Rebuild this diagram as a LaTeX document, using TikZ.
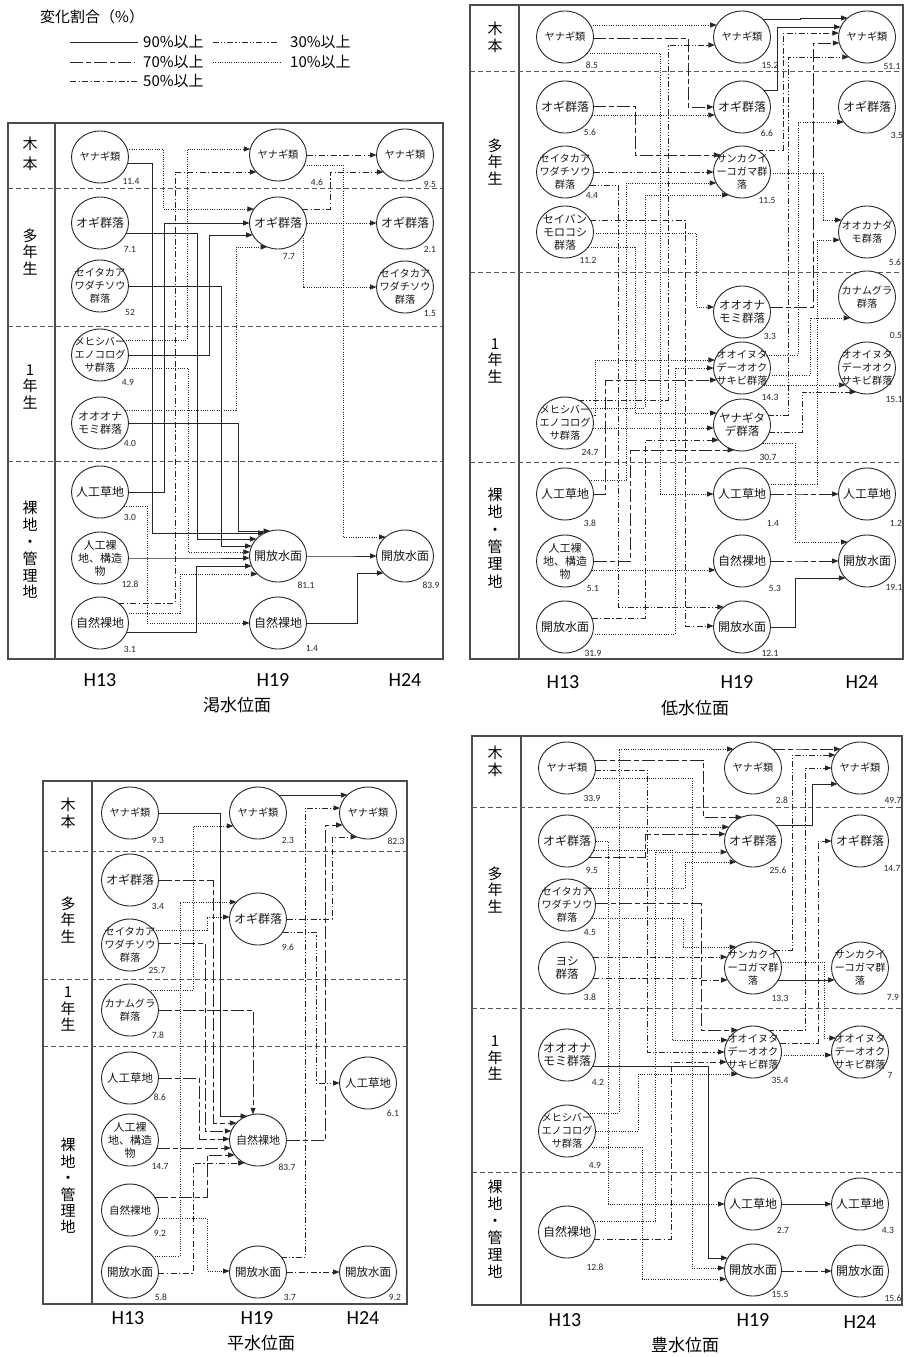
\documentclass[tikz,border=0pt]{standalone}
\usepackage{fontspec}
\setmainfont{Noto Sans CJK JP}
\newfontfamily\numf{Carlito}
\usetikzlibrary{shapes.geometric,arrows.meta,calc}
\tikzset{
 cir/.style={draw=black!85,line width=0.9pt,ellipse,minimum width=57pt,minimum height=52pt,inner sep=0pt,fill=white},
 ctx/.style={align=center,inner sep=0pt,text=black!90},
 val/.style={font=\numf\fontsize{9.5}{10}\selectfont,inner sep=0pt,text=black!85},
 pframe/.style={draw=black!70,line width=1.1pt},
 psep/.style={draw=black!65,line width=0.8pt,dash pattern=on 5pt off 3pt},
 rl/.style={align=center,inner sep=0pt,font=\fontsize{15}{16.8}\selectfont},
 hl/.style={font=\numf\fontsize{20}{20}\selectfont,inner sep=0pt},
 ttl/.style={font=\fontsize{17}{17}\selectfont,inner sep=0pt},
 lg/.style={font=\fontsize{15}{15}\selectfont,inner sep=0pt,anchor=west},
 s90/.style={},
 s70/.style={dash pattern=on 13pt off 3pt on 5pt off 3pt},
 s50/.style={dash pattern=on 6pt off 2.5pt on 1.2pt off 2.5pt},
 s30/.style={dash pattern=on 6pt off 2pt on 1.2pt off 2pt on 1.2pt off 2pt},
 s10/.style={dash pattern=on 1pt off 1.3pt,line width=0.75pt},
 con/.style={line width=0.9pt,draw=black!85,-{Triangle[length=6.5pt,width=5pt]}},
 lgl/.style={line width=0.9pt,draw=black!85},
}
% node: name, x, y, font size, text, value, value x, value y
\newcommand\mknode[8]{%
 \node[cir,label={[ctx,font=\fontsize{#4}{13}\selectfont]center:{#5}}] (#1) at (#2,#3) {};
 \node[val] (#1v) at (#7,#8) {#6};}
% connector: style, source, y at source, x of turn, y at target, target
\newcommand\cxn[6]{%
 \draw[con,#1] let \p1=(#2.center), \p2=(#6.center),
  \n1={28.5*sqrt(max(0,1-((#3+(\y1))/26)^2))},
  \n2={28.5*sqrt(max(0,1-((#5+(\y2))/26)^2))} in
  ({\x1+\n1},{-#3pt}) -| ({#4pt},{-#5pt}) -- ({\x2-\n2},{-#5pt});}
% from bottom of source at x, down, then right into target at y
\newcommand\cxd[5]{%
 \draw[con,#1] let \p1=(#2.center), \p2=(#5.center),
  \n1={26*sqrt(max(0,1-((#3-(\x1))/28.5)^2))},
  \n2={28.5*sqrt(max(0,1-((#4+(\y2))/26)^2))} in
  ({#3pt},{\y1-\n1}) |- ({\x2-\n2},{-#4pt});}
% from right of source at y, right to x, then down into top of target
\newcommand\cxt[5]{%
 \draw[con,#1] let \p1=(#2.center), \p2=(#5.center),
  \n1={28.5*sqrt(max(0,1-((#3+(\y1))/26)^2))},
  \n2={26*sqrt(max(0,1-((#4-(\x2))/28.5)^2))} in
  ({\x1+\n1},{-#3pt}) -| ({#4pt},{\y2+\n2});}
\begin{document}
\begin{tikzpicture}[x=1pt,y=-1pt]
\path[use as bounding box,fill=white] (0,0) rectangle (906,1357);

% ---------------- legend
\node[lg] (lgt) at (40,17) {変化割合（\%）};
\draw[lgl] (70,42) -- (138,42);
\node[lg] (lg90) at (143,42) {90\%以上};
\draw[lgl,s30] (213,42) -- (278,42);
\node[lg] (lg30) at (290,42) {30\%以上};
\draw[lgl,s70] (70,62) -- (135,62);
\node[lg] (lg70) at (143,62) {70\%以上};
\draw[lgl,s10] (213,62) -- (280,62);
\node[lg] (lg10) at (290,62) {10\%以上};
\draw[lgl,s50] (70,81) -- (138,81);
\node[lg] (lg50) at (143,81) {50\%以上};

% ================= PANEL 1 (渇水位面)
\draw[pframe] (8,123) rectangle (443,659);
\draw[pframe] (55,123) -- (55,659);
\draw[psep] (8,188) -- (443,188);
\draw[psep] (8,326) -- (443,326);
\draw[psep] (8,461) -- (443,461);
\node[rl,font=\fontsize{15}{20}\selectfont] (L1a) at (30,154) {木\\本};
\node[rl] (L1b) at (30,252) {多\\年\\生};
\node[rl] (L1c) at (30,387) {1\\年\\生};
\node[rl] (L1d) at (30,550) {裸\\地\\・\\管\\理\\地};
\node[hl] (H1a) at (100,680) {H13};
\node[hl] (H1b) at (273,680) {H19};
\node[hl] (H1c) at (405,680) {H24};
\node[ttl] (T1t) at (237,705) {渇水位面};

\mknode{A1}{100}{157}{10.2}{ヤナギ類}{11.4}{131}{181}
\mknode{A2}{100}{223}{12}{オギ群落}{7.1}{130}{249}
\mknode{A3}{100}{286}{10.2}{セイタカア\\ワダチソウ\\群落}{52}{130}{312}
\mknode{A4}{100}{355}{10.2}{メヒシバー\\エノコログ\\サ群落}{4.9}{128}{382}
\mknode{A5}{100}{423}{11}{オオオナ\\モミ群落}{4.0}{130}{443}
\mknode{A6}{100}{492}{12}{人工草地}{3.0}{130}{517}
\mknode{A7}{100}{558}{11}{人工裸\\地、構造\\物}{12.8}{130}{584}
\mknode{A8}{100}{623}{12}{自然裸地}{3.1}{130}{649}
\mknode{B1}{278}{155}{10.2}{ヤナギ類}{4.6}{317}{182}
\mknode{B2}{278}{223}{12}{オギ群落}{7.7}{289}{256}
\mknode{B3}{278}{556}{12}{開放水面}{81.1}{306}{585}
\mknode{B4}{278}{623}{12}{自然裸地}{1.4}{312}{648}
\mknode{C1}{405}{155}{10.2}{ヤナギ類}{9.5}{430}{184}
\mknode{C2}{405}{223}{12}{オギ群落}{2.1}{430}{249}
\mknode{C3}{405}{287}{10.2}{セイタカア\\ワダチソウ\\群落}{1.5}{430}{313}
\mknode{C4}{405}{556}{12}{開放水面}{83.9}{431}{585}

\cxn{s10}{A1}{149}{163}{209}{B2}
\cxn{s90}{A1}{163}{152}{533}{B3}
\cxn{s90}{A2}{233}{197}{539}{B3}
\cxn{s90}{A3}{286}{221}{546}{B3}
\cxn{s10}{A4}{368}{188}{552}{B3}
\cxn{s90}{A5}{423}{238}{531}{B3}
\cxn{s90}{A7}{558}{200}{558}{B3}
\cxn{s10}{A8}{613}{180}{574}{B3}
\cxn{s90}{A8}{632}{196}{566}{B3}
\cxn{s90}{A6}{492}{164}{223}{B2}
\cxn{s90}{A4}{355}{209}{235}{B2}
\cxn{s10}{A4}{340}{187}{149}{B1}
\cxn{s50}{A8}{603}{175}{172}{B1}
\cxn{s10}{A6}{506}{147}{623}{B4}
\cxn{s10}{A5}{410}{236}{247}{B2}
\cxn{s50}{B1}{155}{350}{155}{C1}
\cxn{s50}{B2}{209}{330}{172}{C1}
\cxn{s10}{B1}{165}{343}{537}{C4}
\cxn{s10}{B2}{223}{360}{223}{C2}
\cxd{s10}{B2}{303}{287}{C3}
\cxn{s90}{B3}{556}{340}{556}{C4}
\cxn{s90}{B4}{623}{357}{573}{C4}

% ================= PANEL 2 (低水位面)
\draw[pframe] (470,5) rectangle (903,659);
\draw[pframe] (519,5) -- (519,659);
\draw[psep] (470,71) -- (903,71);
\draw[psep] (470,272) -- (903,272);
\draw[psep] (470,462) -- (903,462);
\node[rl,font=\fontsize{15}{17}\selectfont] (L2a) at (495,37) {木\\本};
\node[rl] (L2b) at (495,162) {多\\年\\生};
\node[rl] (L2c) at (495,361) {1\\年\\生};
\node[rl,font=\fontsize{15}{17.4}\selectfont] (L2d) at (495,538) {裸\\地\\・\\管\\理\\地};
\node[hl] (H2a) at (563,682) {H13};
\node[hl] (H2b) at (737,682) {H19};
\node[hl] (H2c) at (862,682) {H24};
\node[ttl] (T2t) at (695,708) {低水位面};

\mknode{P2a}{565}{37}{10.2}{ヤナギ類}{8.5}{592}{65}
\mknode{P2b}{565}{107}{12}{オギ群落}{5.6}{590}{132}
\mknode{P2c}{565}{172}{10.2}{セイタカア\\ワダチソウ\\群落}{4.4}{592}{195}
\mknode{P2d}{565}{232}{11}{セイバン\\モロコシ\\群落}{11.2}{588}{260}
\mknode{P2e}{565}{423}{10.2}{メヒシバー\\エノコログ\\サ群落}{24.7}{590}{452}
\mknode{P2f}{565}{494}{12}{人工草地}{3.8}{590}{523}
\mknode{P2g}{565}{561}{11}{人工裸\\地、構造\\物}{5.1}{593}{588}
\mknode{P2h}{565}{627}{12}{開放水面}{31.9}{593}{653}
\mknode{Q1}{742}{37}{10.2}{ヤナギ類}{15.2}{770}{65}
\mknode{Q2}{742}{107}{12}{オギ群落}{6.6}{767}{133}
\mknode{Q3}{742}{172}{10.2}{サンカクイ\\ーコガマ群\\落}{11.5}{767}{200}
\mknode{Q4}{742}{312}{11.5}{オオオナ\\モミ群落}{3.3}{770}{336}
\mknode{Q5}{742}{368}{10.2}{オオイヌタ\\デーオオク\\サキビ群落}{14.3}{770}{397}
\mknode{Q6}{742}{425}{11.5}{ヤナギタ\\デ群落}{30.7}{768}{457}
\mknode{Q7}{742}{494}{12}{人工草地}{1.4}{773}{523}
\mknode{Q8}{742}{561}{12}{自然裸地}{5.3}{775}{588}
\mknode{Q9}{742}{627}{12}{開放水面}{12.1}{770}{653}
\mknode{R1}{867}{37}{10.2}{ヤナギ類}{51.1}{892}{66}
\mknode{R2}{867}{107}{12}{オギ群落}{3.5}{897}{135}
\mknode{R3}{867}{232}{10.2}{オオカナダ\\モ群落}{5.6}{895}{262}
\mknode{R4}{867}{297}{10.2}{カナムグラ\\群落}{0.5}{896}{335}
\mknode{R5}{867}{368}{10.2}{オオイヌタ\\デーオオク\\サキビ群落}{15.1}{894}{399}
\mknode{R6}{867}{494}{12}{人工草地}{1.2}{896}{523}
\mknode{R7}{867}{561}{12}{開放水面}{19.1}{894}{587}

\cxn{s10}{P2a}{25}{650}{25}{Q1}
\cxn{s70}{P2a}{38}{688}{107}{Q2}
\cxn{s10}{P2b}{115}{650}{115}{Q2}
\cxn{s70}{P2b}{106}{635}{155}{Q3}
\cxn{s30}{P2c}{172}{650}{172}{Q3}
\cxn{s10}{P2f}{480}{626}{183}{Q3}
\cxn{s10}{P2e}{408}{645}{195}{Q3}
\cxn{s30}{P2e}{400}{668}{45}{Q1}
\cxn{s10}{P2d}{233}{696}{307}{Q4}
\cxn{s10}{P2e}{415}{595}{360}{Q5}
\cxn{s10}{P2h}{634}{675}{368}{Q5}
\cxn{s70}{P2f}{494}{605}{380}{Q5}
\cxn{s10}{P2d}{247}{635}{413}{Q6}
\cxn{s10}{P2e}{428}{700}{428}{Q6}
\cxn{s50}{P2h}{618}{645}{440}{Q6}
\cxn{s70}{P2g}{561}{630}{450}{Q6}
\cxn{s10}{P2a}{53}{660}{494}{Q7}
\cxn{s10}{P2g}{570}{700}{570}{Q8}
\cxn{s30}{P2c}{185}{618}{607}{Q9}
\cxn{s50}{P2d}{220}{685}{626}{Q9}
\cxn{s90}{Q1}{19}{800}{18}{R1}
\cxn{s90}{Q2}{90}{777}{27}{R1}
\cxn{s50}{Q3}{150}{783}{33}{R1}
\cxn{s70}{Q4}{307}{813}{43}{R1}
\cxn{s30}{Q6}{415}{788}{57}{R1}
\cxn{s10}{Q5}{355}{798}{122}{R2}
\cxn{s10}{Q3}{173}{823}{220}{R3}
\cxn{s10}{Q7}{484}{817}{240}{R3}
\cxn{s10}{Q5}{375}{810}{318}{R4}
\cxn{s10}{Q5}{385}{830}{385}{R5}
\cxn{s30}{Q6}{432}{802}{392}{R5}
\cxn{s10}{Q6}{443}{795}{542}{R7}
\cxn{s70}{Q7}{494}{800}{494}{R6}
\cxn{s70}{Q8}{561}{800}{561}{R7}
\cxn{s90}{Q9}{627}{795}{578}{R7}

% ================= PANEL 3 (平水位面)
\draw[pframe] (43,781) rectangle (407,1304);
\draw[pframe] (92,781) -- (92,1304);
\draw[psep] (43,851) -- (407,851);
\draw[psep] (43,979) -- (407,979);
\draw[psep] (43,1046) -- (407,1046);
\node[rl,font=\fontsize{15}{17}\selectfont] (L3a) at (68,813) {木\\本};
\node[rl] (L3b) at (68,920) {多\\年\\生};
\node[rl] (L3c) at (68,1009) {1\\年\\生};
\node[rl,font=\fontsize{15}{16.4}\selectfont] (L3d) at (68,1186) {裸\\地\\・\\管\\理\\地};
\node[hl] (H3a) at (128,1318) {H13};
\node[hl] (H3b) at (257,1318) {H19};
\node[hl] (H3c) at (363,1318) {H24};
\node[ttl] (T3t) at (261,1343) {平水位面};

\mknode{S1}{130}{813}{10.2}{ヤナギ類}{9.3}{158}{840}
\mknode{S2}{130}{880}{12}{オギ群落}{3.4}{158}{906}
\mknode{S3}{130}{945}{10.2}{セイタカア\\ワダチソウ\\群落}{25.7}{157}{970}
\mknode{S4}{130}{1010}{10.2}{カナムグラ\\群落}{7.8}{158}{1035}
\mknode{S5}{130}{1078}{11.5}{人工草地}{8.6}{160}{1097}
\mknode{S6}{130}{1140}{11}{人工裸\\地、構造\\物}{14.7}{160}{1166}
\mknode{S7}{130}{1210}{10.5}{自然裸地}{9.2}{160}{1233}
\mknode{S8}{130}{1272}{11.5}{開放水面}{5.8}{161}{1297}
\mknode{T1}{258}{813}{10.2}{ヤナギ類}{2.3}{288}{840}
\mknode{T2}{258}{919}{12}{オギ群落}{9.6}{288}{947}
\mknode{T3}{258}{1140}{11}{自然裸地}{83.7}{287}{1167}
\mknode{T4}{258}{1272}{11.5}{開放水面}{3.7}{290}{1297}
\mknode{U1}{368}{813}{10.2}{ヤナギ類}{82.3}{396}{841}
\mknode{U2}{368}{1083}{11.5}{人工草地}{6.1}{393}{1113}
\mknode{U3}{368}{1272}{11.5}{開放水面}{9.2}{395}{1297}

\cxn{s90}{T1}{795}{320}{795}{U1}
\cxn{s30}{T4}{1257}{305}{808}{U1}
\cxn{s70}{T3}{1140}{325}{825}{U1}
\cxn{s50}{T2}{919}{332}{837}{U1}
\cxn{s30}{T2}{932}{316}{1083}{U2}
\cxn{s50}{T4}{1272}{320}{1272}{U3}
\cxn{s10}{S4}{990}{193}{826}{T1}
\cxn{s10}{S8}{1256}{180}{902}{T2}
\cxn{s10}{S3}{930}{207}{917}{T2}
\cxn{s90}{S1}{813}{220}{1116}{T3}
\cxn{s70}{S2}{880}{213}{1123}{T3}
\cxn{s70}{S3}{943}{205}{1131}{T3}
\cxn{s70}{S5}{1078}{199}{1139}{T3}
\cxn{s70}{S6}{1148}{210}{1148}{T3}
\cxn{s70}{S7}{1197}{207}{1155}{T3}
\cxn{s50}{S8}{1273}{193}{1163}{T3}
\cxt{s70}{S4}{1010}{253}{T3}
\cxn{s10}{S7}{1218}{207}{1271}{T4}

% ================= PANEL 4 (豊水位面)
\draw[pframe] (472,736) rectangle (902,1305);
\draw[pframe] (521,736) -- (521,1305);
\draw[psep] (472,807) -- (902,807);
\draw[psep] (472,1008) -- (902,1008);
\draw[psep] (472,1172) -- (902,1172);
\node[rl,font=\fontsize{15}{17}\selectfont] (L4a) at (495,761) {木\\本};
\node[rl] (L4b) at (495,890) {多\\年\\生};
\node[rl] (L4c) at (495,1058) {1\\年\\生};
\node[rl,font=\fontsize{15}{17}\selectfont] (L4d) at (495,1229) {裸\\地\\・\\管\\理\\地};
\node[hl] (H4a) at (565,1320) {H13};
\node[hl] (H4b) at (753,1320) {H19};
\node[hl] (H4c) at (860,1322) {H24};
\node[ttl] (T4t) at (685,1345) {豊水位面};

\mknode{V1}{567}{768}{10.2}{ヤナギ類}{33.9}{592}{798}
\mknode{V2}{567}{841}{12}{オギ群落}{9.5}{592}{870}
\mknode{V3}{567}{905}{10.2}{セイタカア\\ワダチソウ\\群落}{4.5}{590}{932}
\mknode{V4}{567}{968}{11.5}{ヨシ\\群落}{3.8}{590}{997}
\mknode{V5}{567}{1055}{12}{オオオナ\\モミ群落}{4.2}{598}{1082}
\mknode{V6}{567}{1131}{10.2}{メヒシバー\\エノコログ\\サ群落}{4.9}{595}{1165}
\mknode{V7}{567}{1232}{12}{自然裸地}{12.8}{595}{1267}
\mknode{W1}{753}{768}{10.2}{ヤナギ類}{2.8}{782}{800}
\mknode{W2}{753}{841}{12}{オギ群落}{25.6}{778}{870}
\mknode{W3}{753}{968}{10.2}{サンカクイ\\ーコガマ群\\落}{13.3}{780}{998}
\mknode{W4}{753}{1052}{10.2}{オオイヌタ\\デーオオク\\サキビ群落}{35.4}{780}{1080}
\mknode{W5}{753}{1204}{12}{人工草地}{2.7}{783}{1230}
\mknode{W6}{753}{1270}{12}{開放水面}{15.5}{780}{1294}
\mknode{X1}{860}{768}{10.2}{ヤナギ類}{49.7}{893}{800}
\mknode{X2}{860}{841}{12}{オギ群落}{14.7}{892}{868}
\mknode{X3}{860}{968}{10.2}{サンカクイ\\ーコガマ群\\落}{7.9}{893}{997}
\mknode{X4}{860}{1052}{10.2}{オオイヌタ\\デーオオク\\サキビ群落}{7}{890}{1075}
\mknode{X5}{860}{1204}{12}{人工草地}{4.3}{888}{1230}
\mknode{X6}{860}{1271}{12}{開放水面}{15.6}{893}{1298}

\cxn{s70}{W1}{749}{800}{749}{X1}
\cxn{s30}{W3}{950}{792}{755}{X1}
\cxn{s30}{W4}{1030}{805}{768}{X1}
\cxn{s90}{W2}{825}{812}{784}{X1}
\cxn{s50}{W4}{1043}{818}{841}{X2}
\cxn{s10}{W3}{962}{824}{1038}{X4}
\cxn{s90}{W3}{980}{800}{980}{X3}
\cxn{s10}{W4}{1055}{800}{1055}{X4}
\cxn{s90}{W5}{1204}{800}{1204}{X5}
\cxn{s70}{W6}{1271}{800}{1271}{X6}
\cxn{s10}{V6}{1113}{619}{749}{W1}
\cxn{s70}{V1}{760}{703}{817}{W2}
\cxn{s10}{V2}{827}{680}{827}{W2}
\cxn{s70}{V2}{857}{645}{834}{W2}
\cxn{s10}{V7}{1221}{655}{852}{W2}
\cxn{s10}{V3}{888}{685}{862}{W2}
\cxn{s10}{V3}{918}{683}{947}{W3}
\cxn{s30}{V4}{957}{700}{957}{W3}
\cxn{s50}{V4}{978}{700}{980}{W3}
\cxn{s70}{V3}{903}{701}{1030}{W4}
\cxn{s10}{V2}{850}{672}{1040}{W4}
\cxn{s30}{V1}{770}{647}{1052}{W4}
\cxn{s50}{V7}{1239}{671}{1062}{W4}
\cxn{s10}{V6}{1131}{638}{1074}{W4}
\cxn{s10}{V2}{841}{608}{1204}{W5}
\cxn{s90}{V5}{1066}{708}{1258}{W6}
\cxn{s10}{V1}{778}{692}{1268}{W6}
\cxn{s10}{V6}{1147}{642}{1279}{W6}
\end{tikzpicture}
\end{document}
